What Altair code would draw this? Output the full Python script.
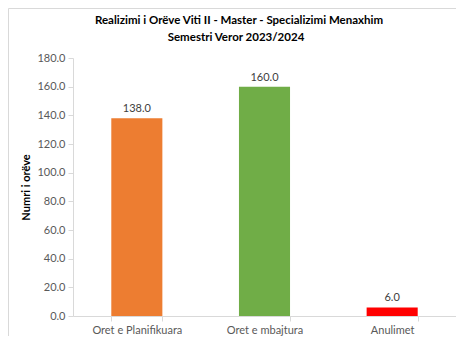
import altair as alt
import pandas as pd

categories = ["Oret e Planifikuara", "Oret e mbajtura", "Anulimet"]
values = [138.0, 160.0, 6.0]
colors = ["#ED7D31", "#70AD47", "#FF0000"]
y_ticks = [0, 20, 40, 60, 80, 100, 120, 140, 160, 180]
title_lines = ["Realizimi i Orëve  Viti II - Master - Specializimi Menaxhim",
               "Semestri Veror 2023/2024"]

df = pd.DataFrame({"cat": categories, "val": values, "color": colors})

FONT = "Lato"
W, H = 383, 258

base = alt.Chart(df).encode(
    x=alt.X("cat:N", sort=categories, title=None,
            scale=alt.Scale(paddingInner=0.6, paddingOuter=0.3),
            axis=alt.Axis(labelAngle=0, tickBand="extent", domainColor="#d9d9d9",
                          tickColor="#d9d9d9", tickSize=5, labelPadding=3,
                          labelColor="#595959", labelFontSize=11, labelFont=FONT)),
    y=alt.Y("val:Q", title="Numri i orëve",
            scale=alt.Scale(domain=[0, 180], nice=False),
            axis=alt.Axis(values=y_ticks, format=".1f", grid=False,
                          labelOverlap=False, labelFlush=False, tickCount=10,
                          domainColor="#d9d9d9", tickColor="#d9d9d9", tickSize=5,
                          labelPadding=3, labelColor="#595959", labelFontSize=11,
                          labelFont=FONT, titleFont=FONT, titleFontSize=11,
                          titleFontWeight="bold", titleColor="#000000",
                          titlePadding=5)),
)

bars = base.mark_bar().encode(color=alt.Color("color:N", scale=None))

labels = base.mark_text(dy=-9, fontSize=11, font=FONT, color="#404040").encode(
    text=alt.Text("val:Q", format=".1f"),
)

single = alt.Chart(alt.Data(values=[{}]))
top_line = single.mark_rule(color="#d9d9d9").encode(
    x=alt.value(-64.5), x2=alt.value(W), y=alt.value(-49.5))
left_line = single.mark_rule(color="#d9d9d9").encode(
    x=alt.value(-64.5), y=alt.value(-49.5), y2=alt.value(H + 30))

title1 = single.mark_text(font=FONT, fontSize=11.5, fontWeight="bold",
                          color="#000000", baseline="alphabetic").encode(
    x=alt.value(166), y=alt.value(-34), text=alt.value(title_lines[0]))
title2 = single.mark_text(font=FONT, fontSize=11.5, fontWeight="bold",
                          color="#000000", baseline="alphabetic").encode(
    x=alt.value(163), y=alt.value(-17), text=alt.value(title_lines[1]))

chart = alt.layer(bars, labels, top_line, left_line, title1, title2).properties(
    width=W, height=H,
    autosize=alt.AutoSizeParams(type="none"),
    padding={"left": 65, "top": 50, "right": 0, "bottom": 20},
).configure_view(stroke=None)

chart.save("out.html", embed_options={"renderer": "svg", "actions": False})
